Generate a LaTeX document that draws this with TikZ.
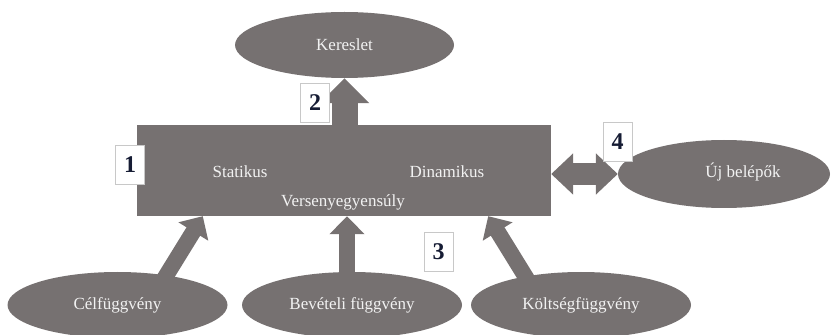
\documentclass[tikz,border=0pt]{standalone}
\usepackage{fontspec}
\setmainfont{Liberation Serif}
\usetikzlibrary{shapes.geometric,arrows.meta}

\definecolor{boxgray}{RGB}{118,113,113}
\definecolor{lbltext}{RGB}{242,242,242}
\definecolor{numtext}{RGB}{22,28,52}
\definecolor{numframe}{RGB}{200,200,200}

\tikzset{
  oval/.style={ellipse, fill=boxgray, inner sep=0pt, text=lbltext, font=\fontsize{17}{20}\selectfont},
  botoval/.style={oval, minimum width=220pt, minimum height=66pt},
  lbl/.style={text=lbltext, font=\fontsize{17}{20}\selectfont},
  numbox/.style={draw=numframe, fill=white, line width=0.8pt, minimum width=29pt, minimum height=39pt, inner sep=0pt, text=numtext, font=\fontsize{24}{28}\selectfont\bfseries},
  bigarrow/.style={boxgray, line width=26pt, -{Triangle[width=48pt,length=25pt]}},
  thinarrow/.style={boxgray, line width=16pt, -{Triangle[width=34pt,length=18pt]}},
  dblarrow/.style={boxgray, line width=22pt, {Triangle[width=40pt,length=22pt]}-{Triangle[width=40pt,length=22pt]}}
}

\begin{document}
\begin{tikzpicture}[x=1pt,y=1pt]
\useasboundingbox (0,0) rectangle (831,335);

%Main box
\node[fill=boxgray, minimum width=414pt, minimum height=91pt, inner sep=0pt] (verseny) at (344,164.5) {};
\node[lbl] (statikus) at (240,163) {Statikus};
\node[lbl] (dinamikus) at (447,163) {Dinamikus};
\node[lbl] (versenylbl) at (343,133) {Versenyegyensúly};

%Demand on top
\node[oval, minimum width=219pt, minimum height=66pt] (kereslet) at (344.5,290) {Kereslet};
\draw[bigarrow] (verseny.north -| kereslet.south) -- (kereslet.south);

%New entrants
\node[oval, minimum width=212pt, minimum height=68pt] (ujbelepok) at (724,161) {};
\node[lbl] (ujlbl) at (743,163) {Új belépők};
\draw[dblarrow] (verseny.east |- ujbelepok.west) -- (ujbelepok.west);

%Functions below
\coordinate (celfoot) at (148,30);
\coordinate (bevfoot) at (347,30);
\coordinate (koltfoot) at (543,30);
\coordinate (celtip) at ([xshift=66pt]verseny.south west);
\coordinate (koltip) at ([xshift=-63pt]verseny.south east);
\draw[thinarrow] (celfoot) -- (celtip);
\draw[thinarrow] (bevfoot) -- (bevfoot |- verseny.south);
\draw[thinarrow] (koltfoot) -- (koltip);

\node[botoval] (celf) at (117.5,30) {Célfüggvény};
\node[botoval] (bevf) at (352,30) {Bevételi függvény};
\node[botoval] (koltf) at (581,30) {Költségfüggvény};

%Numbers
\node[numbox] (n1) at (130,170) {1};
\node[numbox] (n2) at (315,232.5) {2};
\node[numbox] (n3) at (438.5,83) {3};
\node[numbox] (n4) at (617.5,193) {4};

\end{tikzpicture}
\end{document}
